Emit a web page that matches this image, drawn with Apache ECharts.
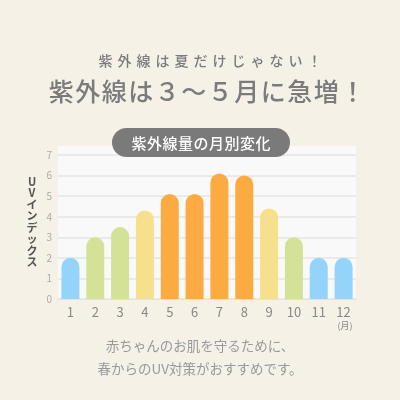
<!DOCTYPE html>
<html><head><meta charset="utf-8">
<script src="https://cdn.jsdelivr.net/npm/echarts@6/dist/echarts.min.js"></script>
<style>html,body{margin:0;padding:0;background:#f5f1e7;}#c{width:400px;height:400px;}</style>
</head><body><div id="c"></div>
<script>
const months = ['1','2','3','4','5','6','7','8','9','10','11','12'];
const uvIndex = [2, 3, 3.5, 4.3, 5.1, 5.1, 6.1, 6.0, 4.4, 3, 2, 2];
const barColors = ['#95d4fa','#d4e298','#d4e298','#f7e08c','#fbab42','#fbab42','#fbab42','#fbab42','#f7e08c','#d4e298','#95d4fa','#95d4fa'];
const yTicks = [0,1,2,3,4,5,6,7];
const subTitle = '紫外線は夏だけじゃない！';
const mainTitle = '紫外線は３〜５月に急増！';
const chartTitle = '紫外線量の月別変化';
const yName = 'UVインデックス';
const unitLabel = '(月)';
const footer1 = '赤ちゃんのお肌を守るために、';
const footer2 = '春からのUV対策がおすすめです。';

// canvas letter spacing for the headline texts only
const spacingMap = {};
spacingMap[subTitle] = 5;
spacingMap[mainTitle] = 1.5;
spacingMap[chartTitle] = 0.5;
const origFillText = CanvasRenderingContext2D.prototype.fillText;
CanvasRenderingContext2D.prototype.fillText = function (t, x, y, w) {
  const ls = spacingMap[t];
  if (ls !== undefined && 'letterSpacing' in this) {
    this.save();
    this.letterSpacing = ls + 'px';
    if (w === undefined) origFillText.call(this, t, x + ls / 2, y);
    else origFillText.call(this, t, x + ls / 2, y, w);
    this.restore();
    this.letterSpacing = '0px';
    return;
  }
  if ('letterSpacing' in this && this.letterSpacing !== '0px') this.letterSpacing = '0px';
  if (w === undefined) return origFillText.call(this, t, x, y);
  return origFillText.call(this, t, x, y, w);
};

const font = '"Noto Sans CJK JP", "Noto Sans", sans-serif';
const chart = echarts.init(document.getElementById('c'));
chart.setOption({
  backgroundColor: '#f5f1e7',
  animation: false,
  grid: {left: 58, right: 44, top: 155, bottom: 101},
  xAxis: {
    type: 'category', data: months,
    axisLine: {show: true, lineStyle: {color: '#e2e2e2'}},
    axisTick: {show: false},
    axisLabel: {color: '#888', fontSize: 13, fontFamily: font, margin: 7}
  },
  yAxis: {
    type: 'value', min: 0, max: 7, interval: 1,
    axisLabel: {color: '#aaa', fontSize: 10, fontFamily: font, margin: 6,
      formatter: v => yTicks.includes(v) ? String(v) : ''},
    splitLine: {lineStyle: {color: '#e4e4e4', width: 1.5}}
  },
  series: [{
    type: 'bar', barWidth: 18,
    data: uvIndex.map((v, i) => ({value: v, itemStyle: {color: barColors[i]}})),
    itemStyle: {borderRadius: [9, 9, 0, 0]}
  }],
  graphic: [
    {type: 'rect', z: -10, shape: {x: 58, y: 146, width: 298, height: 153}, style: {fill: '#f9f9f9'}},
    {type: 'text', x: 210, y: 61, style: {text: subTitle, font: '500 14px ' + font, fill: '#7b7b7b', align: 'center', verticalAlign: 'middle'}},
    {type: 'text', x: 207, y: 91, style: {text: mainTitle, font: '500 25px ' + font, fill: '#7b7b7b', align: 'center', verticalAlign: 'middle'}},
    {type: 'rect', z: 10, shape: {x: 112, y: 128, width: 178, height: 29, r: 14.5}, style: {fill: '#7a7a7a'}},
    {type: 'text', z: 11, x: 201, y: 143, style: {text: chartTitle, font: '500 15px ' + font, fill: '#ffffff', align: 'center', verticalAlign: 'middle'}},
    {type: 'text', x: 32, y: 222, style: {text: yName.split('').join('\n'), font: 'bold 11px ' + font, lineHeight: 11.5, fill: '#555', align: 'center', verticalAlign: 'middle'}},
    {type: 'text', x: 345, y: 326, style: {text: unitLabel, font: '9px ' + font, fill: '#888', align: 'center', verticalAlign: 'middle'}},
    {type: 'text', x: 200, y: 346, style: {text: footer1, font: '13.5px ' + font, fill: '#999', align: 'center', verticalAlign: 'middle'}},
    {type: 'text', x: 200, y: 369, style: {text: footer2, font: '13.5px ' + font, fill: '#999', align: 'center', verticalAlign: 'middle'}}
  ]
});
</script></body></html>
